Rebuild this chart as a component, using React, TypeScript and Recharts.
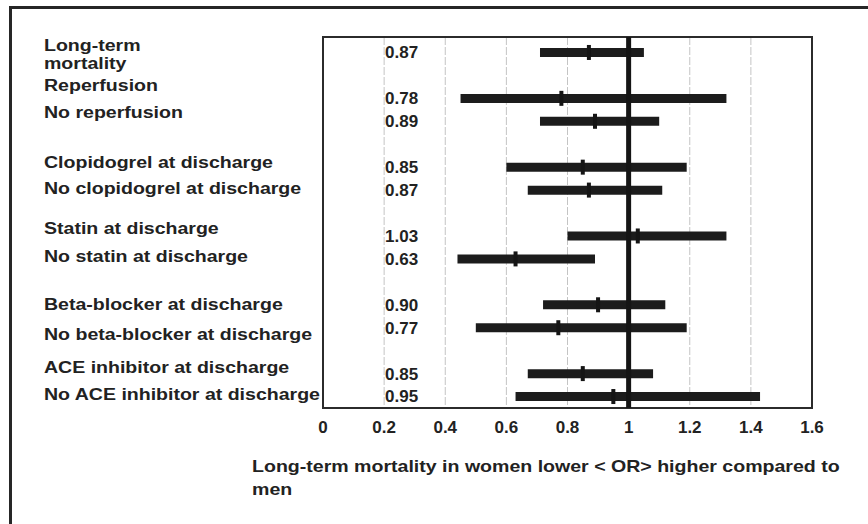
import React from "react";
import {
  ComposedChart,
  Bar,
  Line,
  XAxis,
  YAxis,
  CartesianGrid,
  ReferenceLine,
  LabelList,
  usePlotArea,
} from "recharts";

// one entry per row of the forest plot, empty strings are spacer rows
const rowLabels = [
  "Long-term mortality",
  "",
  "Reperfusion",
  "No reperfusion",
  "",
  "Clopidogrel at discharge",
  "No clopidogrel at discharge",
  "",
  "Statin at discharge",
  "No statin at discharge",
  "",
  "Beta-blocker at discharge",
  "No beta-blocker at discharge",
  "",
  "ACE inhibitor at discharge",
  "No ACE inhibitor at discharge",
];

const oddsRatio = [0.87, null, 0.78, 0.89, null, 0.85, 0.87, null, 1.03, 0.63, null, 0.9, 0.77, null, 0.85, 0.95];
const ciLower = [0.71, null, 0.45, 0.71, null, 0.6, 0.67, null, 0.8, 0.44, null, 0.72, 0.5, null, 0.67, 0.63];
const ciUpper = [1.05, null, 1.32, 1.1, null, 1.19, 1.11, null, 1.32, 0.89, null, 1.12, 1.19, null, 1.08, 1.43];

const xTicks = [0, 0.2, 0.4, 0.6, 0.8, 1, 1.2, 1.4, 1.6];

const data = rowLabels.map((name, i) => ({
  name,
  or: oddsRatio[i],
  ci: ciLower[i] == null ? null : [ciLower[i], ciUpper[i]],
}));

// small vertical nudges so the row captions sit where they were typed
const captionShift = [-7, 0, -13, -9, 0, -5, -2, 0, -8, -3, 0, -1, 6, 0, -7, -2];

const FONT = '"Liberation Sans", Arial, sans-serif';
const INK = "#222";

function RowCaption(props: any) {
  const { y, payload } = props;
  const i = payload.value as number;
  const label = rowLabels[i];
  if (!label) return <g />;
  const ty = y + captionShift[i];
  const lines = i === 0 ? ["Long-term", "mortality"] : [label];
  return (
    <g transform={`translate(44, ${ty}) scale(1.15, 1)`}>
      {lines.map((t, k) => (
        <text
          key={k}
          x={0}
          y={k * 18}
          dy="0.35em"
          fontFamily={FONT}
          fontWeight="bold"
          fontSize={17}
          fill={INK}
        >
          {t}
        </text>
      ))}
    </g>
  );
}

function PointMark(props: any) {
  const { cx, cy, index } = props;
  if (cx == null || cy == null || props.value == null) return <g key={`pt-${index}`} />;
  return <rect key={`pt-${index}`} x={cx - 2} y={cy - 7.5} width={4} height={15} fill="#151515" />;
}

function ValueLabel(props: any) {
  const { y, value } = props;
  if (value == null) return null;
  return (
    <text
      x={385}
      y={y}
      dy="0.35em"
      fontFamily={FONT}
      fontWeight="bold"
      fontSize={17}
      fill={INK}
    >
      {Number(value).toFixed(2)}
    </text>
  );
}

function PlotFrame() {
  const area = usePlotArea();
  if (!area) return null;
  return (
    <rect
      x={area.x}
      y={area.y}
      width={area.width}
      height={area.height}
      fill="none"
      stroke="#2b2b2b"
      strokeWidth={2}
    />
  );
}

export default function App() {
  return (
    <div
      style={{
        position: "absolute",
        left: 0,
        top: 0,
        width: 868,
        height: 524,
        overflow: "hidden",
        background: "#fff",
      }}
    >
      <div
        style={{
          position: "absolute",
          left: 9,
          top: 6,
          width: 900,
          height: 600,
          border: "3px solid #262626",
        }}
      />
      <ComposedChart
        layout="vertical"
        width={868}
        height={524}
        data={data}
        margin={{ top: 37, right: 56, bottom: 86, left: 0 }}
        style={{ position: "absolute", left: 0, top: 0 }}
      >
        <CartesianGrid
          horizontal={false}
          stroke="#c4c4c4"
          strokeDasharray="8 2"
        />
        <XAxis
          type="number"
          domain={[0, 1.6]}
          ticks={xTicks}
          interval={0}
          height={30}
          axisLine={false}
          tickLine={false}
          tickMargin={7}
          tick={{ fontFamily: FONT, fontWeight: "bold", fontSize: 17, fill: INK }}
        />
        <YAxis
          type="category"
          width={323}
          padding={{ top: 4, bottom: 0 }}
          axisLine={false}
          tickLine={false}
          interval={0}
          tick={<RowCaption />}
        />
        <ReferenceLine x={1} stroke="#151515" strokeWidth={5} />
        <Bar dataKey="ci" barSize={9} fill="#1c1c1c" isAnimationActive={false} />
        <Line
          dataKey="or"
          stroke="none"
          dot={<PointMark />}
          activeDot={false}
          isAnimationActive={false}
        >
          <LabelList dataKey="or" content={<ValueLabel />} />
        </Line>
        <PlotFrame />
      </ComposedChart>
      <div
        style={{
          position: "absolute",
          left: 252,
          top: 455,
          fontFamily: FONT,
          fontWeight: "bold",
          fontSize: 17,
          lineHeight: "23px",
          color: INK,
          whiteSpace: "nowrap",
          transform: "scale(1.15, 1)",
          transformOrigin: "0 0",
        }}
      >
        Long-term mortality in women lower &lt; OR&gt; higher compared to
        <br />
        men
      </div>
    </div>
  );
}
